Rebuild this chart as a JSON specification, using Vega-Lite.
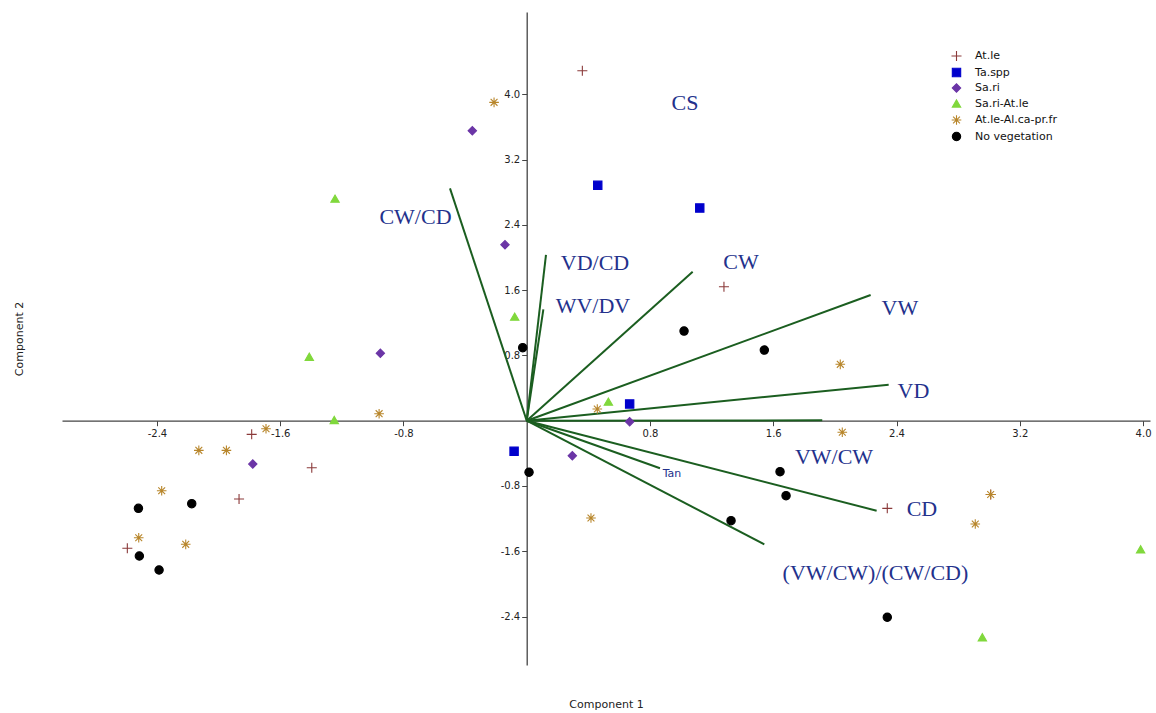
{
  "$schema": "https://vega.github.io/schema/vega-lite/v6.json",
  "width": 1088,
  "height": 653,
  "autosize": {"type": "none"},
  "padding": {"left": 62, "top": 12, "right": 6, "bottom": 48},
  "background": "white",
  "config": {
    "view": {"stroke": null},
    "legend": {
      "labelFont": "DejaVu Sans",
      "labelFontSize": 11,
      "labelColor": "#111111",
      "symbolSize": 70,
      "symbolStrokeWidth": 1.1,
      "rowPadding": 2.5,
      "labelOffset": 13,
      "padding": 0
    }
  },
  "datasets": {
    "vectors": [
      {"v": "CW/CD", "x0": 0, "y0": 0, "x": -0.498, "y": 2.848},
      {"v": "VD/CD", "x0": 0, "y0": 0, "x": 0.125, "y": 2.031},
      {"v": "WV/DV", "x0": 0, "y0": 0, "x": 0.108, "y": 1.365},
      {"v": "CW", "x0": 0, "y0": 0, "x": 1.077, "y": 1.826},
      {"v": "VW", "x0": 0, "y0": 0, "x": 2.232, "y": 1.54},
      {"v": "VD", "x0": 0, "y0": 0, "x": 2.349, "y": 0.441},
      {"v": "VW/CW", "x0": 0, "y0": 0, "x": 1.918, "y": 0.005},
      {"v": "CD", "x0": 0, "y0": 0, "x": 2.271, "y": -1.103},
      {"v": "(VW/CW)/(CW/CD)", "x0": 0, "y0": 0, "x": 1.542, "y": -1.515},
      {"v": "Tan", "x0": 0, "y0": 0, "x": 0.865, "y": -0.583}
    ],
    "labels": [
      {"label": "CS", "x": 1.027, "y": 3.893},
      {"label": "CW/CD", "x": -0.722, "y": 2.502},
      {"label": "VD/CD", "x": 0.443, "y": 1.932},
      {"label": "WV/DV", "x": 0.43, "y": 1.4},
      {"label": "CW", "x": 1.391, "y": 1.945},
      {"label": "VW", "x": 2.422, "y": 1.387},
      {"label": "VD", "x": 2.51, "y": 0.358},
      {"label": "VW/CW", "x": 1.994, "y": -0.445},
      {"label": "CD", "x": 2.565, "y": -1.076},
      {"label": "(VW/CW)/(CW/CD)", "x": 2.263, "y": -1.866},
      {"label": "Tan", "x": 0.943, "y": -0.653}
    ],
    "points": [
      {"group": "At.le", "x": 0.361, "y": 4.289},
      {"group": "At.le", "x": 1.28, "y": 1.642},
      {"group": "At.le", "x": -1.785, "y": -0.167},
      {"group": "At.le", "x": -1.395, "y": -0.576},
      {"group": "At.le", "x": -1.867, "y": -0.96},
      {"group": "At.le", "x": -2.592, "y": -1.564},
      {"group": "At.le", "x": 2.34, "y": -1.074},
      {"group": "At.le", "x": 3.011, "y": -0.904},
      {"group": "Ta.spp", "x": 0.461, "y": 2.885},
      {"group": "Ta.spp", "x": 1.123, "y": 2.607},
      {"group": "Ta.spp", "x": 0.668, "y": 0.205},
      {"group": "Ta.spp", "x": -0.082, "y": -0.375},
      {"group": "Sa.ri", "x": -0.353, "y": 3.554},
      {"group": "Sa.ri", "x": -0.141, "y": 2.157},
      {"group": "Sa.ri", "x": -0.95, "y": 0.826},
      {"group": "Sa.ri", "x": 0.668, "y": -0.012},
      {"group": "Sa.ri", "x": 0.296, "y": -0.429},
      {"group": "Sa.ri", "x": -1.778, "y": -0.531},
      {"group": "Sa.ri-At.le", "x": -1.244, "y": 2.721},
      {"group": "Sa.ri-At.le", "x": -0.078, "y": 1.275},
      {"group": "Sa.ri-At.le", "x": -1.411, "y": 0.784},
      {"group": "Sa.ri-At.le", "x": 0.53, "y": 0.233},
      {"group": "Sa.ri-At.le", "x": -1.249, "y": 0.009},
      {"group": "Sa.ri-At.le", "x": 3.984, "y": -1.576},
      {"group": "Sa.ri-At.le", "x": 2.957, "y": -2.654},
      {"group": "At.le-Al.ca-pr.fr", "x": -0.212, "y": 3.902},
      {"group": "At.le-Al.ca-pr.fr", "x": -0.958, "y": 0.086},
      {"group": "At.le-Al.ca-pr.fr", "x": -1.692, "y": -0.098},
      {"group": "At.le-Al.ca-pr.fr", "x": -2.128, "y": -0.363},
      {"group": "At.le-Al.ca-pr.fr", "x": -1.949, "y": -0.363},
      {"group": "At.le-Al.ca-pr.fr", "x": -2.369, "y": -0.858},
      {"group": "At.le-Al.ca-pr.fr", "x": -2.518, "y": -1.434},
      {"group": "At.le-Al.ca-pr.fr", "x": -2.213, "y": -1.515},
      {"group": "At.le-Al.ca-pr.fr", "x": 0.458, "y": 0.143},
      {"group": "At.le-Al.ca-pr.fr", "x": 2.035, "y": 0.691},
      {"group": "At.le-Al.ca-pr.fr", "x": 2.048, "y": -0.142},
      {"group": "At.le-Al.ca-pr.fr", "x": 0.417, "y": -1.192},
      {"group": "At.le-Al.ca-pr.fr", "x": 2.911, "y": -1.266},
      {"group": "At.le-Al.ca-pr.fr", "x": 3.011, "y": -0.904},
      {"group": "No vegetation", "x": -0.026, "y": 0.895},
      {"group": "No vegetation", "x": 1.021, "y": 1.099},
      {"group": "No vegetation", "x": 1.542, "y": 0.866},
      {"group": "No vegetation", "x": 0.015, "y": -0.632},
      {"group": "No vegetation", "x": -2.174, "y": -1.017},
      {"group": "No vegetation", "x": -2.52, "y": -1.074},
      {"group": "No vegetation", "x": -2.514, "y": -1.658},
      {"group": "No vegetation", "x": -2.386, "y": -1.83},
      {"group": "No vegetation", "x": 1.644, "y": -0.625},
      {"group": "No vegetation", "x": 1.683, "y": -0.919},
      {"group": "No vegetation", "x": 1.326, "y": -1.225},
      {"group": "No vegetation", "x": 2.34, "y": -2.409}
    ]
  },
  "layer": [
    {
      "data": {"name": "vectors"},
      "mark": {"type": "rule", "color": "#1b5e20", "strokeWidth": 2},
      "encoding": {
        "x": {
          "field": "x0", "type": "quantitative",
          "scale": {"domain": [-3.016, 4.045], "nice": false, "zero": false},
          "axis": {
            "title": "Component 1",
            "orient": "bottom",
            "offset": -244.3,
            "values": [-2.4, -1.6, -0.8, 0.8, 1.6, 2.4, 3.2, 4.0],
            "labelExpr": "replace(format(datum.value, '.1f'), '\u2212', '-')",
            "grid": false,
            "domainColor": "#444444",
            "domainWidth": 1.3,
            "tickColor": "#444444",
            "tickSize": 5,
            "labelFont": "DejaVu Sans",
            "labelFontSize": 10,
            "labelColor": "#222222",
            "labelPadding": 3,
            "titleFont": "DejaVu Sans",
            "titleFontSize": 11,
            "titleFontWeight": "normal",
            "titleColor": "#222222",
            "titleY": 284,
            "titleBaseline": "middle"
          }
        },
        "y": {
          "field": "y0", "type": "quantitative",
          "scale": {"domain": [-2.994, 5.009], "nice": false, "zero": false},
          "axis": {
            "title": "Component 2",
            "orient": "left",
            "offset": -464.7,
            "values": [-2.4, -1.6, -0.8, 0.8, 1.6, 2.4, 3.2, 4.0],
            "labelExpr": "replace(format(datum.value, '.1f'), '\u2212', '-')",
            "grid": false,
            "domainColor": "#444444",
            "domainWidth": 1.3,
            "tickColor": "#444444",
            "tickSize": 5,
            "labelFont": "DejaVu Sans",
            "labelFontSize": 10,
            "labelColor": "#222222",
            "labelPadding": 2,
            "titleFont": "DejaVu Sans",
            "titleFontSize": 11,
            "titleFontWeight": "normal",
            "titleColor": "#222222",
            "titleX": -507.7,
            "titleBaseline": "middle"
          }
        },
        "x2": {"field": "x"},
        "y2": {"field": "y"}
      }
    },
    {
      "data": {"name": "points"},
      "mark": {"type": "point", "filled": true, "size": 70, "strokeWidth": 1.1, "opacity": 1},
      "encoding": {
        "x": {"field": "x", "type": "quantitative", "scale": {"domain": [-3.016, 4.045], "nice": false, "zero": false}},
        "y": {"field": "y", "type": "quantitative", "scale": {"domain": [-2.994, 5.009], "nice": false, "zero": false}},
        "shape": {
          "field": "group", "type": "nominal",
          "scale": {
            "domain": ["At.le", "Ta.spp", "Sa.ri", "Sa.ri-At.le", "At.le-Al.ca-pr.fr", "No vegetation"],
            "range": ["M-1.2,0L1.2,0M0,-1.2L0,1.2", "square", "diamond", "triangle-up", "M-1.15,0L1.15,0M0,-1.15L0,1.15M-0.82,-0.82L0.82,0.82M-0.82,0.82L0.82,-0.82", "circle"]
          },
          "legend": {"title": null, "orient": "none", "legendX": 889, "legendY": 38.5}
        },
        "fill": {
          "field": "group", "type": "nominal",
          "scale": {
            "domain": ["At.le", "Ta.spp", "Sa.ri", "Sa.ri-At.le", "At.le-Al.ca-pr.fr", "No vegetation"],
            "range": ["transparent", "#0000cc", "#6b35a6", "#80d83c", "transparent", "#000000"]
          },
          "legend": {"title": null, "orient": "none", "legendX": 889, "legendY": 38.5}
        },
        "stroke": {
          "field": "group", "type": "nominal",
          "scale": {
            "domain": ["At.le", "Ta.spp", "Sa.ri", "Sa.ri-At.le", "At.le-Al.ca-pr.fr", "No vegetation"],
            "range": ["#8b3a3a", "#0000cc", "#6b35a6", "#80d83c", "#b8862b", "#000000"]
          },
          "legend": {"title": null, "orient": "none", "legendX": 889, "legendY": 38.5}
        }
      }
    },
    {
      "data": {"name": "labels"},
      "transform": [{"filter": "datum.label !== 'Tan'"}],
      "mark": {"type": "text", "font": "Liberation Serif", "fontSize": 22, "color": "#23318c", "align": "center", "baseline": "middle"},
      "encoding": {
        "x": {"field": "x", "type": "quantitative", "scale": {"domain": [-3.016, 4.045], "nice": false, "zero": false}},
        "y": {"field": "y", "type": "quantitative", "scale": {"domain": [-2.994, 5.009], "nice": false, "zero": false}},
        "text": {"field": "label"}
      }
    },
    {
      "data": {"name": "labels"},
      "transform": [{"filter": "datum.label === 'Tan'"}],
      "mark": {"type": "text", "font": "DejaVu Sans", "fontSize": 11, "color": "#23318c", "align": "center", "baseline": "middle"},
      "encoding": {
        "x": {"field": "x", "type": "quantitative", "scale": {"domain": [-3.016, 4.045], "nice": false, "zero": false}},
        "y": {"field": "y", "type": "quantitative", "scale": {"domain": [-2.994, 5.009], "nice": false, "zero": false}},
        "text": {"field": "label"}
      }
    }
  ]
}
